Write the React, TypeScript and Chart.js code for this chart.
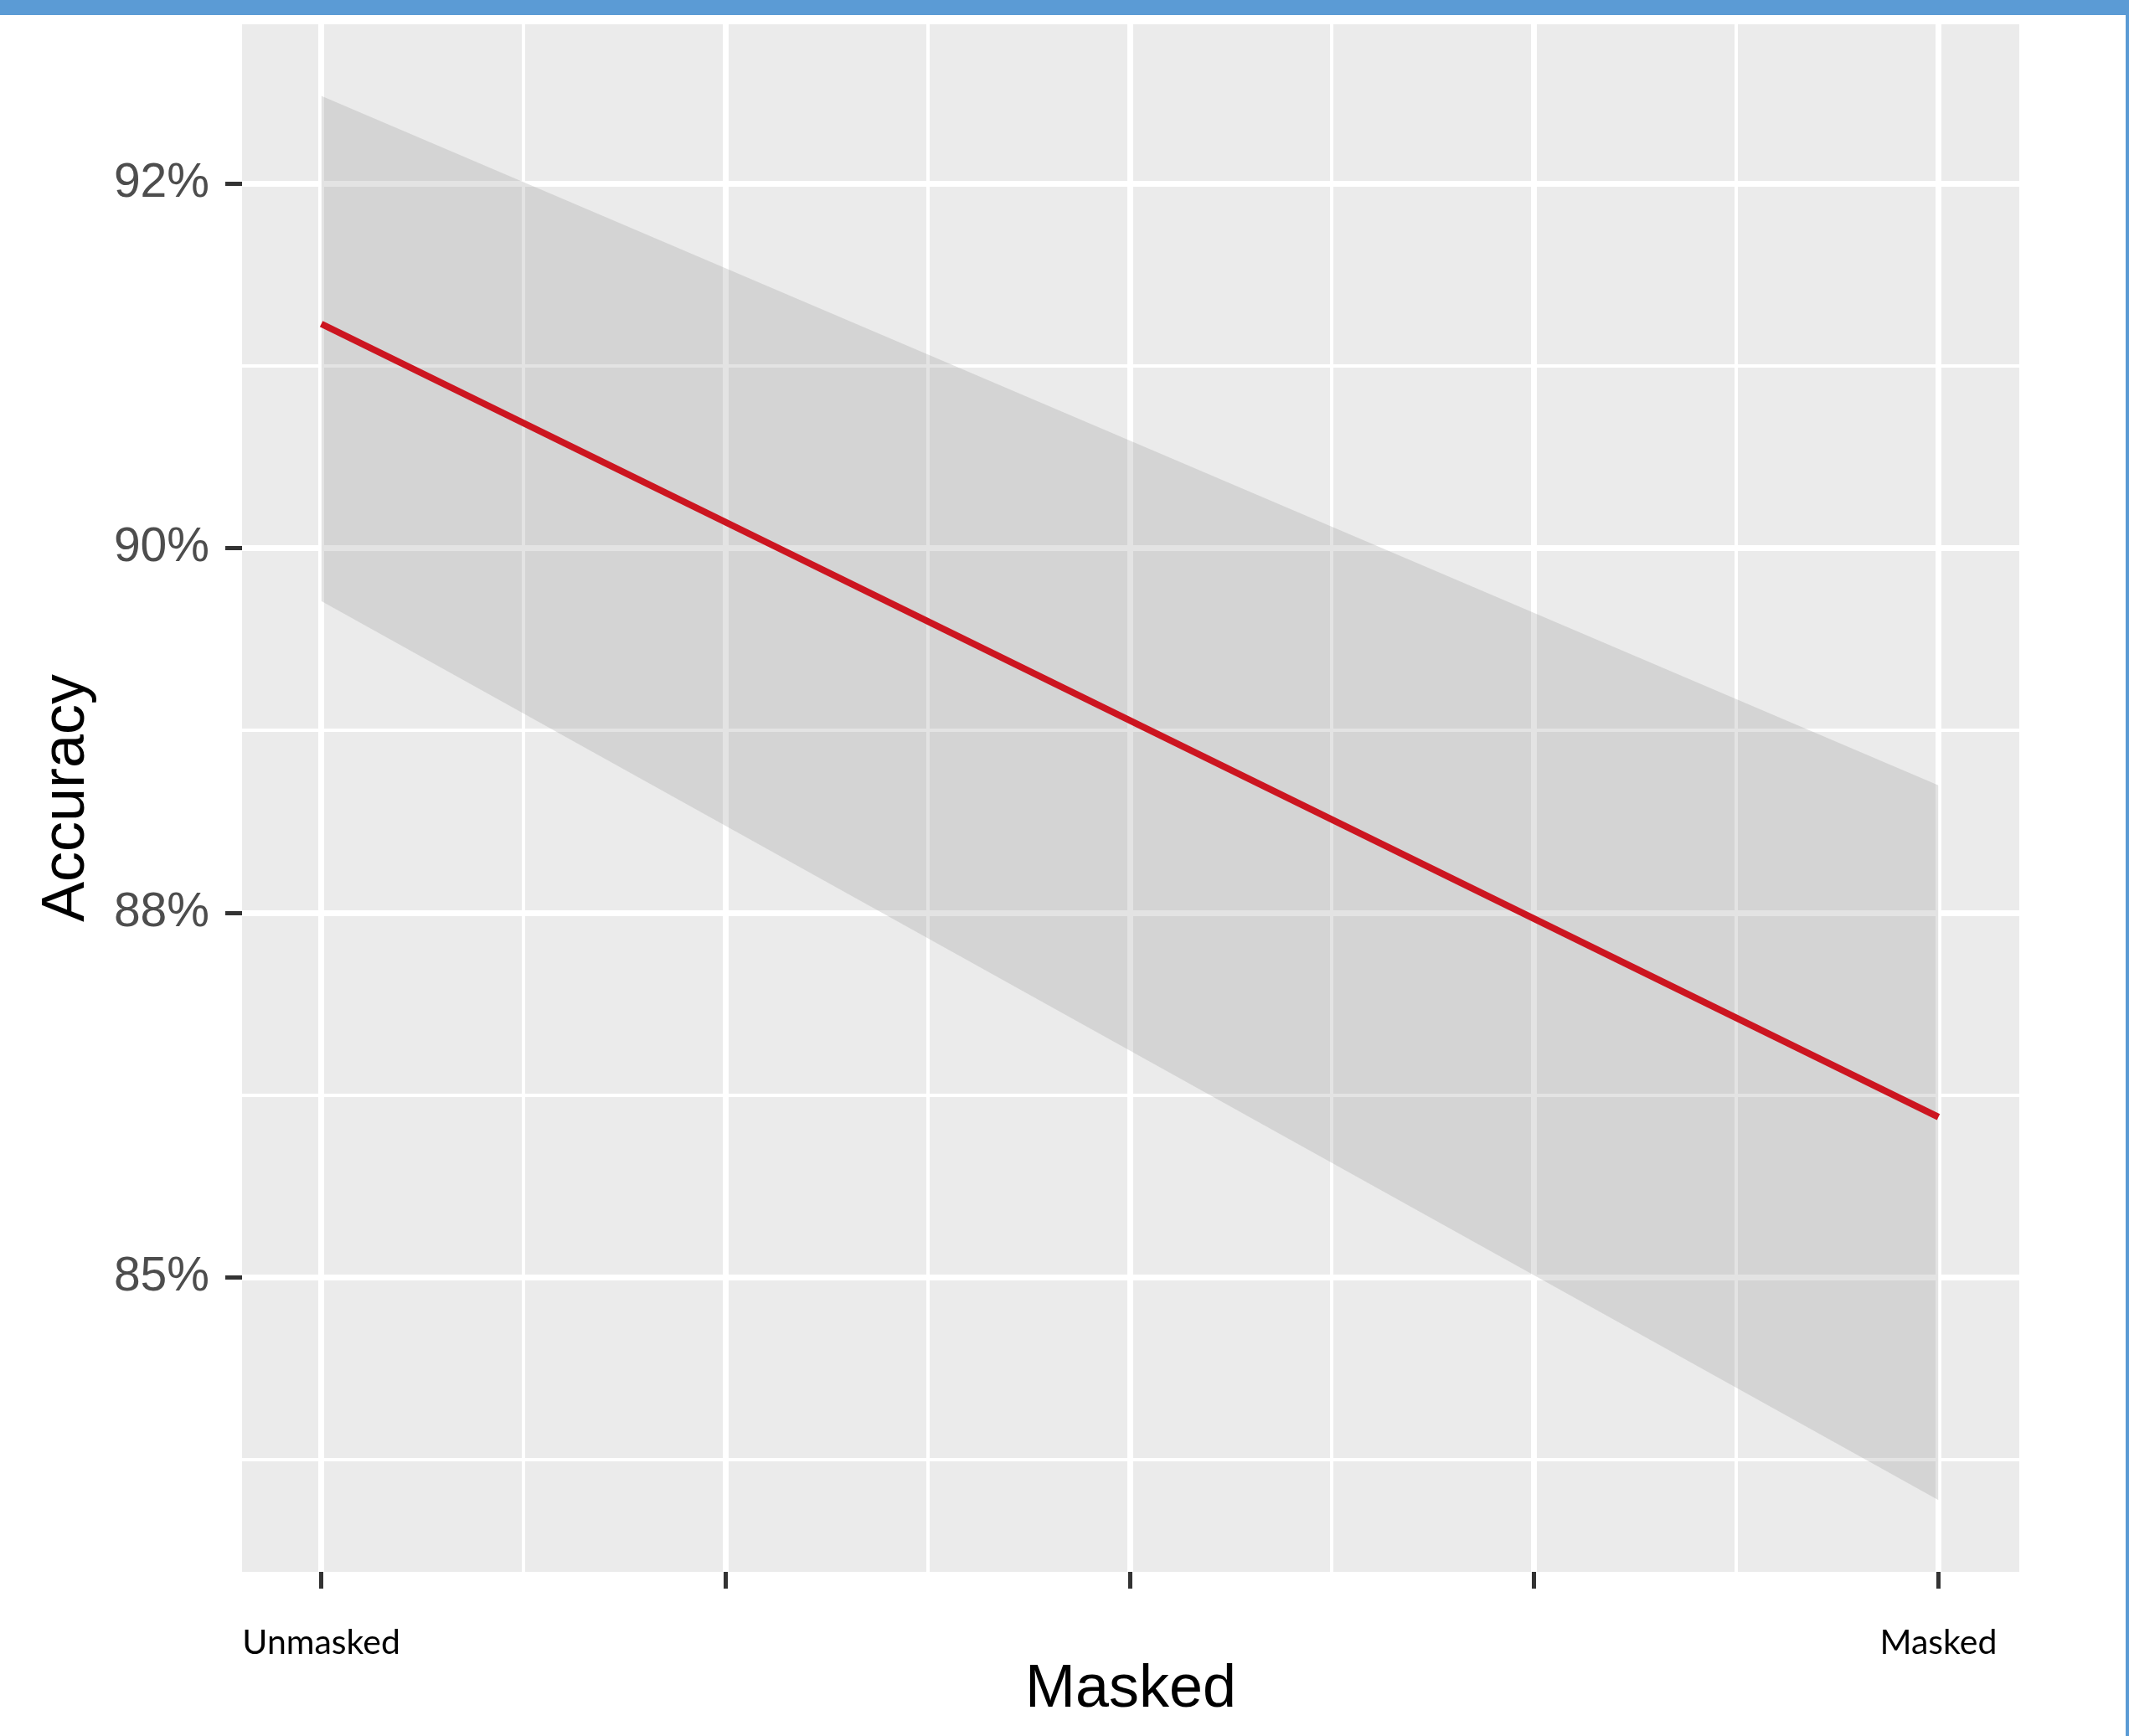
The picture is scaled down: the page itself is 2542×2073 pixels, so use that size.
import React, { useEffect, useRef } from 'react';
import { Chart, registerables } from 'chart.js';

Chart.register(...registerables);

// ---- data ----
const xCategories = ['Unmasked', 'Masked'];
const xPositions = [0, 1];
const fitValues = [91.23, 86.88];
const upperValues = [92.48, 88.7];
const lowerValues = [89.71, 84.78];

const yTickValues = [86, 88, 90, 92];
const yTickLabels = ['85%', '88%', '90%', '92%'];
const yMinorTicks = [85, 87, 89, 91];
const xMajorTicks = [0, 0.25, 0.5, 0.75, 1];
const xMinorTicks = [0.125, 0.375, 0.625, 0.875];

const xTitle = 'Masked';
const yTitle = 'Accuracy';

const W = 2542;
const H = 2073;

const panelBg = {
  id: 'panelBg',
  beforeDraw(chart: any) {
    const { ctx, chartArea } = chart;
    const { left, top, right, bottom } = chartArea;
    ctx.save();
    ctx.fillStyle = '#EBEBEB';
    ctx.fillRect(left, top, right - left, bottom - top);
    ctx.restore();
  },
};

const isMajorX = (v: number) => xMajorTicks.some((m) => Math.abs(m - v) < 1e-9);
const isMajorY = (v: number) => yTickValues.some((m) => Math.abs(m - v) < 1e-9);

export default function App() {
  const ref = useRef<HTMLCanvasElement>(null);

  useEffect(() => {
    const toPts = (vals: number[]) => xPositions.map((x, i) => ({ x, y: vals[i] }));
    const chart = new Chart(ref.current as HTMLCanvasElement, {
      type: 'line',
      data: {
        datasets: [
          {
            label: 'upper',
            data: toPts(upperValues),
            fill: '+1',
            backgroundColor: 'rgba(153,153,153,0.28)',
            borderWidth: 0,
            pointRadius: 0,
            order: 2,
          },
          {
            label: 'lower',
            data: toPts(lowerValues),
            fill: false,
            borderWidth: 0,
            pointRadius: 0,
            order: 3,
          },
          {
            label: 'fit',
            data: toPts(fitValues),
            fill: false,
            borderColor: '#CC1520',
            borderWidth: 8,
            pointRadius: 0,
            tension: 0,
            order: 1,
          },
        ],
      },
      options: {
        animation: false,
        responsive: false,
        devicePixelRatio: 1,
        layout: { padding: { left: 0, top: 29, right: 131, bottom: 0 } },
        plugins: {
          legend: { display: false },
          tooltip: { enabled: false },
        },
        scales: {
          x: {
            type: 'linear',
            min: -0.049,
            max: 1.05,
            afterBuildTicks: (s: any) => {
              s.ticks = [...xMajorTicks, ...xMinorTicks]
                .sort((a, b) => a - b)
                .map((v) => ({ value: v }));
            },
            afterFit: (s: any) => {
              s.height = 196;
              s.paddingLeft = 0;
              s.paddingRight = 0;
            },
            border: { display: false },
            grid: {
              color: '#FFFFFF',
              lineWidth: (c: any) => (c.tick && isMajorX(c.tick.value) ? 7 : 4),
              tickColor: (c: any) => (c.tick && isMajorX(c.tick.value) ? '#333333' : 'rgba(0,0,0,0)'),
              tickWidth: 5,
              tickLength: 20,
              drawTicks: true,
            },
            ticks: {
              autoSkip: false,
              maxRotation: 0,
              minRotation: 0,
              padding: 40,
              color: '#000000',
              font: { family: 'Lato', size: 41 },
              callback: (v: any) => {
                const i = xPositions.indexOf(Number(v));
                return i >= 0 ? xCategories[i] : '';
              },
            },
            title: {
              display: true,
              text: xTitle,
              color: '#000000',
              font: { family: 'Liberation Sans', size: 72 },
              padding: { top: 0, bottom: 12 },
            },
          },
          y: {
            type: 'linear',
            min: 84.386,
            max: 92.873,
            afterBuildTicks: (s: any) => {
              s.ticks = [...yTickValues, ...yMinorTicks]
                .sort((a, b) => a - b)
                .map((v) => ({ value: v }));
            },
            afterFit: (s: any) => {
              s.width = 289;
              s.paddingTop = 0;
              s.paddingBottom = 0;
            },
            border: { display: false },
            grid: {
              color: '#FFFFFF',
              lineWidth: (c: any) => (c.tick && isMajorY(c.tick.value) ? 7 : 4),
              tickColor: (c: any) => (c.tick && isMajorY(c.tick.value) ? '#333333' : 'rgba(0,0,0,0)'),
              tickWidth: 5,
              tickLength: 20,
              drawTicks: true,
            },
            ticks: {
              autoSkip: false,
              padding: 19,
              color: '#4D4D4D',
              font: { family: 'Liberation Sans', size: 57 },
              callback: (v: any) => {
                const i = yTickValues.indexOf(Number(v));
                return i >= 0 ? yTickLabels[i] : '';
              },
            },
            title: {
              display: true,
              text: yTitle,
              color: '#000000',
              font: { family: 'Liberation Sans', size: 72 },
              padding: { top: 37, bottom: 0 },
            },
          },
        },
      },
      plugins: [panelBg],
    } as any);
    return () => chart.destroy();
  }, []);

  return (
    <div
      style={{
        position: 'absolute',
        left: 0,
        top: 0,
        width: W,
        height: H,
        background: '#FFFFFF',
        overflow: 'hidden',
      }}
    >
      <canvas
        ref={ref}
        width={W}
        height={H}
        style={{ position: 'absolute', left: 0, top: 0, width: W, height: H }}
      />
      <div style={{ position: 'absolute', left: 0, top: 0, width: W, height: 18, background: '#5B9BD5' }} />
      <div style={{ position: 'absolute', right: 0, top: 0, width: 4, height: H, background: '#5B9BD5' }} />
    </div>
  );
}
